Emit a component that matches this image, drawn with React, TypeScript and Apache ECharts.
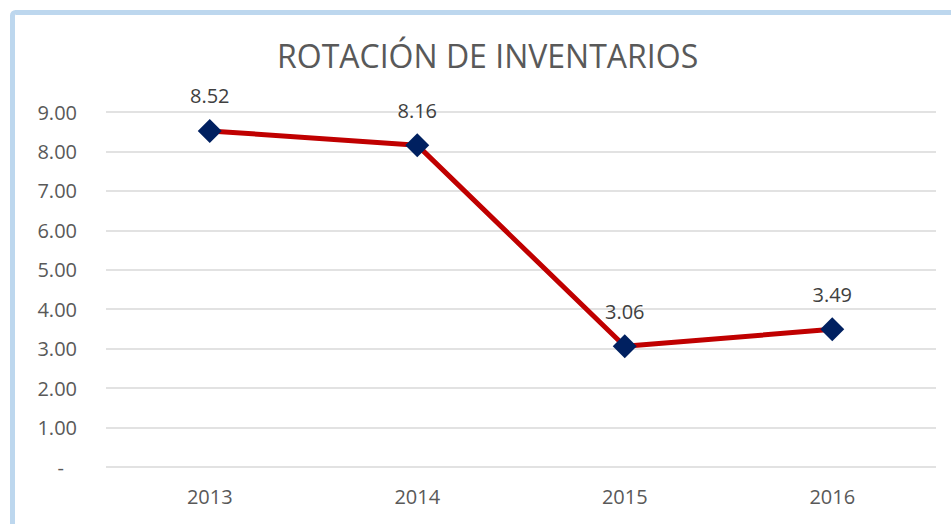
import React, { useEffect, useRef } from "react";
import * as echarts from "echarts";

const categories = ["2013", "2014", "2015", "2016"];
const values = [8.52, 8.16, 3.06, 3.49];
const titleText = "ROTACIÓN DE INVENTARIOS";

export default function App() {
  const ref = useRef<HTMLDivElement>(null);
  useEffect(() => {
    document.body.style.margin = "0";
    const chart = echarts.init(ref.current!, null, { renderer: "svg" });
    const font = "'Open Sans', 'Noto Sans', sans-serif";
    chart.setOption({
      animation: false,
      backgroundColor: "#ffffff",
      title: {
        text: titleText,
        left: 272,
        top: 34,
        textStyle: { fontFamily: font, fontSize: 32, fontWeight: "normal", color: "#595959" },
      },
      graphic: [
        {
          type: "rect",
          shape: { x: 12.5, y: 12.5, width: 1200, height: 800, r: 3 },
          style: { fill: "none", stroke: "#BDD7EE", lineWidth: 5 },
          silent: true,
        },
      ],
      grid: { left: 106, right: 15, top: 112, bottom: 57 },
      xAxis: {
        type: "category",
        data: categories,
        boundaryGap: true,
        axisLine: { show: false },
        axisTick: { show: false },
        axisLabel: { fontFamily: font, fontSize: 20, color: "#595959", margin: 19 },
      },
      yAxis: {
        type: "value",
        min: 0,
        max: 9,
        interval: 1,
        axisLine: { show: false },
        axisTick: { show: false },
        splitLine: { lineStyle: { color: "#D9D9D9", width: 1.5 } },
        axisLabel: {
          fontFamily: font,
          fontSize: 20,
          color: "#595959",
          margin: 29,
          formatter: (v: number) => (v === 0 ? "{d|-}" : v.toFixed(2)),
          rich: { d: { fontFamily: font, fontSize: 20, color: "#595959", padding: [0, 13, 0, 0] } },
        },
      },
      series: [
        {
          type: "line",
          data: values,
          symbol: "diamond",
          symbolSize: 24,
          itemStyle: { color: "#002060" },
          lineStyle: { color: "#C00000", width: 5 },
          label: {
            show: true,
            position: "top",
            distance: 13,
            fontFamily: font,
            fontSize: 20,
            color: "#404040",
            formatter: (p: any) => p.value.toFixed(2),
          },
        },
      ],
    });
    return () => chart.dispose();
  }, []);
  return <div ref={ref} style={{ position: "fixed", left: 0, top: 0, width: 951, height: 524 }} />;
}
